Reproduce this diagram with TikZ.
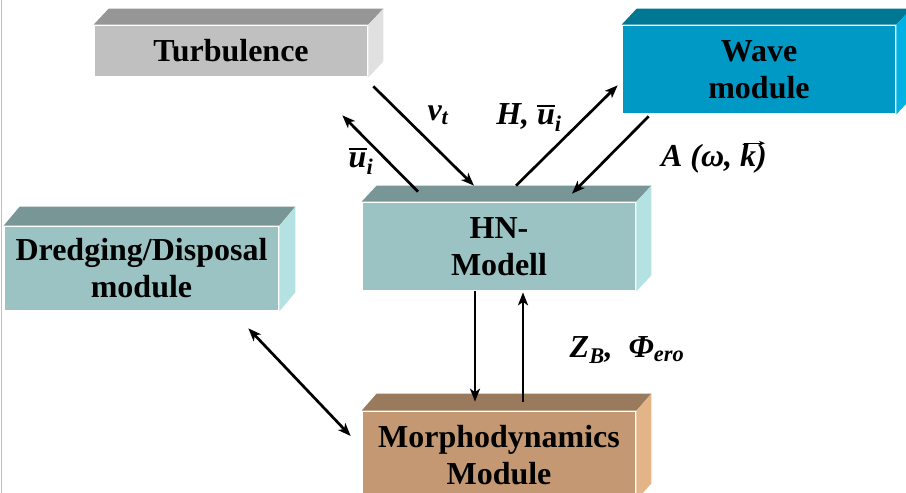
\documentclass[tikz,border=0pt]{standalone}
\usepackage{fontspec}
\setmainfont{Liberation Serif}
\usepackage{tikz}
\usetikzlibrary{arrows.meta}
\tikzset{>={Stealth[length=13pt,width=10pt,inset=3.5pt]}}
\definecolor{turbfront}{RGB}{192,192,192}
\definecolor{turbtop}{RGB}{150,150,150}
\definecolor{turbside}{RGB}{224,224,224}
\definecolor{wavefront}{RGB}{0,153,198}
\definecolor{wavetop}{RGB}{0,120,148}
\definecolor{waveside}{RGB}{0,178,228}
\definecolor{hnfront}{RGB}{155,195,195}
\definecolor{hntop}{RGB}{120,150,150}
\definecolor{hnside}{RGB}{180,226,226}
\definecolor{morphfront}{RGB}{196,152,114}
\definecolor{morphtop}{RGB}{154,122,92}
\definecolor{morphside}{RGB}{226,180,136}

% top and right faces of a block node: node, dx, dy, top colour, side colour
\newcommand{\blockfaces}[5]{%
  \fill[#4] (#1.north west) -- ++(#2,-#3) -- ([shift={(#2,-#3)}]#1.north east) -- (#1.north east) -- cycle;
  \fill[#5] (#1.north east) -- ++(#2,-#3) -- ([shift={(#2,-#3)}]#1.south east) -- (#1.south east) -- cycle;
}
% mean value bar and vector arrow over a letter
\newcommand{\meanbar}[1]{\vbox{\hrule height 2.2pt\kern 3pt\hbox{#1}}}
\newcommand{\vecover}[1]{\vbox{\offinterlineskip\hbox{\kern3pt\rlap{\tikz\draw[-{Stealth[length=6pt,width=5pt]}, line width=1.3pt] (0,0) -- (21pt,0);}}\kern -1.5pt\hbox{#1}}}

\begin{document}
\begin{tikzpicture}[x=1pt, y=-1pt, line width=2.7pt,
    block/.style={fill=#1, minimum width=272, minimum height=87, inner sep=0pt,
      align=center, font=\bfseries\fontsize{32}{37}\selectfont},
    lbl/.style={font=\bfseries\itshape\fontsize{32}{37}\selectfont, inner sep=0pt}]
    \clip (0,0) rectangle (906,493);
    \fill[white] (0,0) rectangle (906,493);
    \draw[gray!50, line width=1pt] (1,0) -- (1,493);

    % Blocks
    \node[block=turbfront, minimum height=50] (turb) at (231,51) {Turbulence};
    \blockfaces{turb}{15}{16}{turbtop}{turbside}
    \node[block=wavefront] (wave) at (759,69.5) {Wave\\module};
    \blockfaces{wave}{15}{16}{wavetop}{waveside}
    \node[block=hnfront] (hn) at (499,246.5) {HN-\\Modell};
    \blockfaces{hn}{15}{16}{hntop}{hnside}
    \node[block=hnfront, minimum width=273, minimum height=83] (dredge) at (141.5,268.5) {Dredging/Disposal\\module};
    \blockfaces{dredge}{16}{19}{hntop}{hnside}
    \node[block=morphfront] (morph) at (499,455.5) {Morphodynamics\\Module};
    \blockfaces{morph}{15}{17}{morphtop}{morphside}

    % Arrows
    \draw[->] ([shift={(5,9)}]turb.south east) -- ([shift={(-25,-16)}]hn.north);
    \draw[->] ([shift={(-81,-10)}]hn.north) -- ([shift={(-26,38)}]turb.south east);
    \draw[->] ([shift={(17,-16)}]hn.north) -- ([shift={(-4,-29)}]wave.south west);
    \draw[->] ([shift={(27,2)}]wave.south west) -- ([shift={(73,-8)}]hn.north);
    \draw[->] ([shift={(-24,0)}]hn.south) -- ([shift={(-24,-9)}]morph.north);
    \draw[->] ([shift={(24,-9)}]morph.north) -- ([shift={(24,1)}]hn.south);
    \draw[<->] ([shift={(-31,17)}]dredge.south east) -- ([shift={(-11,-19.5)}]morph.west);

    % Labels
    \node[lbl] (nut) at (438,115) {ν\textsubscript{t}};
    \node[lbl] (hu) at (529,118) {H, \meanbar{u}\textsubscript{i}};
    \node[lbl] (ui) at (361,161) {\meanbar{u}\textsubscript{i}};
    \node[lbl] (aok) at (714,157) {A (ω, \vecover{k})};
    \node[lbl] (zphi) at (627,350) {Z\textsubscript{B},\ \ Φ\textsubscript{ero}};
\end{tikzpicture}
\end{document}
